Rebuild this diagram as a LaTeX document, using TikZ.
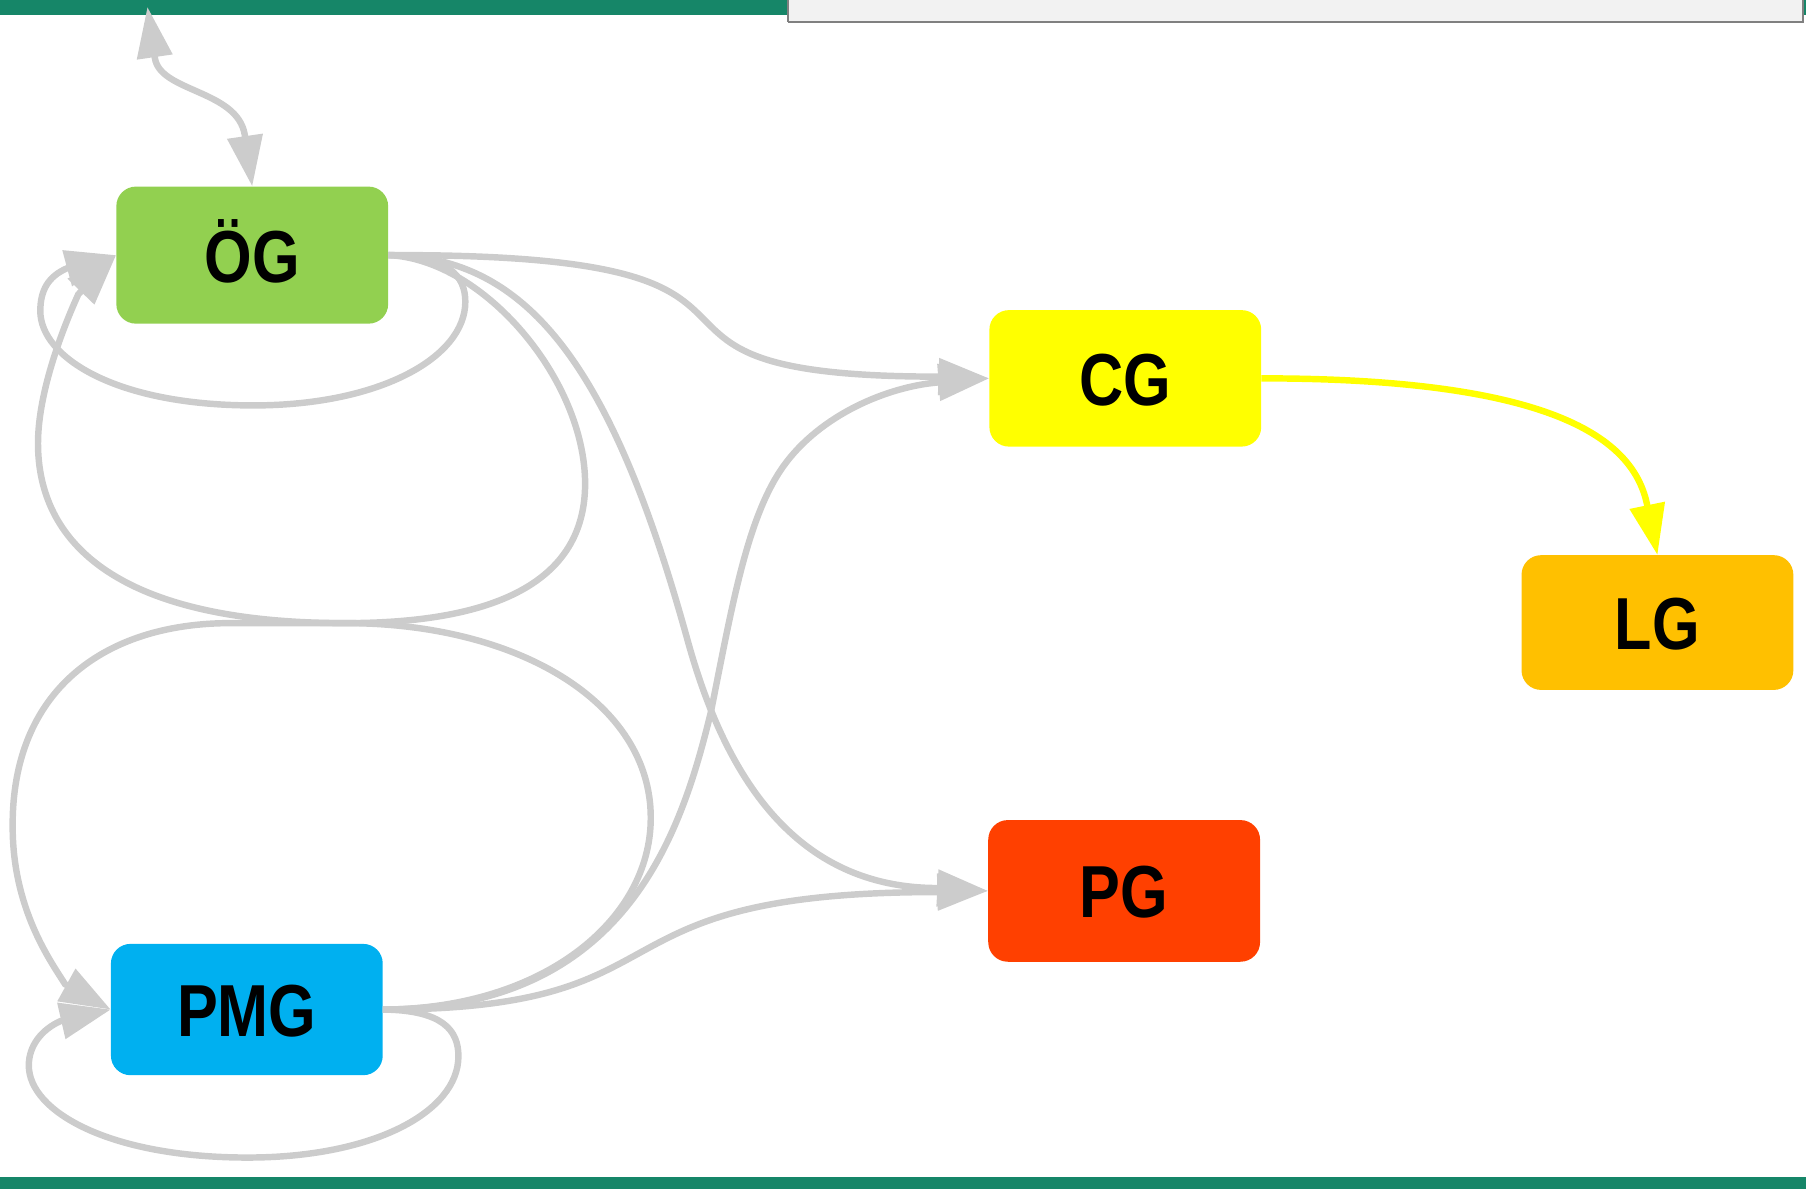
\documentclass[tikz,border=0pt]{standalone}
\usepackage{fontspec}
\usetikzlibrary{arrows.meta}
\newfontfamily\nodefont[FakeStretch=0.83]{Liberation Sans Bold}
\definecolor{barg}{RGB}{22,134,104}
\definecolor{edgeg}{RGB}{204,204,204}
\definecolor{ogc}{RGB}{146,208,80}
\definecolor{cgc}{RGB}{255,255,0}
\definecolor{lgc}{RGB}{255,192,0}
\definecolor{pgc}{RGB}{255,64,0}
\definecolor{pmgc}{RGB}{0,176,240}
\definecolor{boxf}{RGB}{242,242,242}
\definecolor{boxd}{RGB}{128,128,128}
\begin{document}
\begin{tikzpicture}[x=1pt,y=-1pt,
  gnode/.style={rectangle, rounded corners=17pt, minimum width=236pt, inner sep=0pt,
    text height=47pt, text depth=-3pt, font=\nodefont\fontsize{64pt}{64pt}\selectfont},
  conn/.style={draw=edgeg, line width=5.6pt, -{Triangle[length=44pt,width=31pt]}},
  biconn/.style={draw=edgeg, line width=5.6pt, {Triangle[length=44pt,width=30pt]}-{Triangle[length=44pt,width=30pt]}},
  yconn/.style={draw=cgc, line width=5.6pt, -{Triangle[length=44pt,width=30pt]}},
]
\useasboundingbox (0,0) rectangle (1568,1032);
% bars and box
\fill[barg] (0,0) rectangle (1568,13);
\fill[barg] (0,1022) rectangle (1568,1032);
\filldraw[fill=boxf, draw=boxd, line width=1.2pt] (684,-3) rectangle (1565.5,18.5);
\draw[boxd, line width=1pt] (684.5,19.5) -- (1566,19.5);

% nodes
\node[gnode, fill=ogc,  minimum height=119pt]   (og)  at (219,221.5)   {ÖG};
\node[gnode, fill=cgc,  minimum height=118.5pt] (cg)  at (977,328.5)   {CG};
\node[gnode, fill=lgc,  minimum height=117pt]   (lg)  at (1439,540.5)  {LG};
\node[gnode, fill=pgc,  minimum height=123pt]   (pg)  at (976,773.5)   {PG};
\node[gnode, fill=pmgc, minimum height=114pt]   (pmg) at (214.3,876.5) {PMG};

\coordinate (topend) at (128,6);

% top <-> OeG
\draw[biconn] (topend) -- (134.5,50.5) .. controls (139,80) and (206,78) .. (212.5,117) -- (og.north);
% OeG self loop
\draw[conn] (og.east) .. controls (390,222) and (404,240) .. (404,262)
  .. controls (404,310) and (330,352) .. (220,352)
  .. controls (100,352) and (35,310) .. (35,270)
  .. controls (35,252) and (42,240) .. (58,233) -- (og.west);
% OeG -> CG
\draw[conn] (og.east) .. controls (749,220) and (487,327) .. (815,327) -- (cg.west);
% OeG -> PG
\draw[conn] (og.east) .. controls (460,222) and (532,321) .. (597,556)
  .. controls (629.5,673.5) and (690,771) .. (814,771) -- (pg.west);
% OeG -> PMG
\draw[conn] (og.east) .. controls (420,225) and (508,330) .. (508,420)
  .. controls (508,520) and (400,541) .. (300,541) -- (200,541)
  .. controls (90,541) and (10,600) .. (11,718)
  .. controls (11,790) and (45,836) .. (56.5,854.5) -- (pmg.west);
% PMG -> OeG
\draw[conn] (pmg.east) .. controls (470,876) and (565,800) .. (565,710)
  .. controls (565,610) and (450,541) .. (300,541)
  .. controls (100,541) and (33,470) .. (33,385)
  .. controls (33,340) and (55,284) .. (68,255.5) -- (og.west);
% PMG self loop
\draw[conn] (pmg.east) .. controls (385,877) and (398,895) .. (398,917)
  .. controls (398,965) and (325,1005) .. (215,1005)
  .. controls (95,1005) and (25,965) .. (25,925)
  .. controls (25,908) and (36,894) .. (52.5,886.5) -- (pmg.west);
% PMG -> CG
\draw[conn] (pmg.east) .. controls (540,876) and (590,730) .. (617,619)
  .. controls (635,530) and (648,450) .. (680,405)
  .. controls (712,360) and (771,335.5) .. (815,332) -- (cg.west);
% PMG -> PG
\draw[conn] (pmg.east) .. controls (608,876.5) and (499.5,774.5) .. (814,774.5) -- (pg.west);
% CG -> LG
\draw[yconn] (cg.east) .. controls (1360,328.5) and (1419,386) .. (1430,438) -- (lg.north);
\end{tikzpicture}
\end{document}
